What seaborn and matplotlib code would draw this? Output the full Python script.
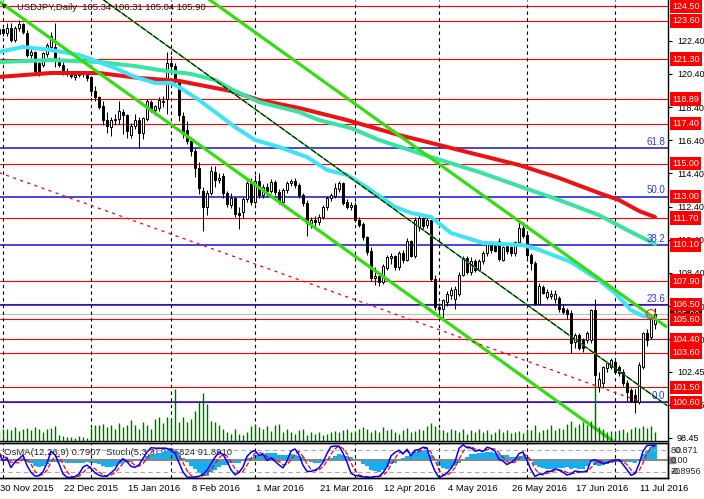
import numpy as np
import pandas as pd
import matplotlib
matplotlib.use("Agg")
import matplotlib.pyplot as plt
import matplotlib.transforms as mtransforms
from matplotlib.patches import Rectangle
import seaborn as sns

sns.set_style("white")
plt.rcParams['font.family'] = ['Liberation Sans', 'DejaVu Sans']

# Daily USDJPY candles, 30 Nov 2015 .. 15 Jul 2016
opens = [122.80, 123.10, 122.85, 123.20, 122.45, 123.15, 123.40, 122.90, 121.55, 121.70,
         121.05, 120.95, 121.60, 122.05, 122.00, 121.20, 120.95, 120.50, 120.50, 120.20,
         120.35, 120.45, 120.40, 120.20, 119.35, 119.00, 118.45, 117.65, 117.20, 117.65,
         117.70, 118.10, 117.90, 116.70, 117.25, 117.65, 116.85, 117.70, 118.70, 118.20,
         118.35, 118.80, 118.90, 121.05, 120.90, 119.95, 117.85, 117.05, 116.35, 115.75,
         114.75, 113.35, 112.40, 113.20, 114.50, 114.00, 114.25, 113.20, 112.50, 112.90,
         112.00, 112.05, 112.85, 113.80, 112.65, 113.95, 113.10, 113.60, 113.35, 113.90,
         113.30, 112.70, 113.40, 113.80, 113.95, 113.70, 113.10, 112.60, 111.40, 111.60,
         111.45, 111.80, 112.40, 112.95, 113.05, 113.45, 113.80, 112.65, 112.40, 112.50,
         111.60, 111.35, 110.55, 109.70, 108.10, 108.20, 107.85, 108.70, 109.30, 109.40,
         108.75, 109.60, 109.20, 110.30, 109.45, 111.20, 111.70, 111.30, 111.60, 108.05,
         106.35, 106.20, 106.65, 107.05, 106.85, 107.10, 108.30, 109.30, 108.45, 109.15,
         108.60, 109.10, 109.60, 110.20, 110.05, 110.35, 109.20, 110.05, 109.95, 109.60,
         110.25, 111.10, 110.70, 109.50, 109.00, 106.55, 107.55, 106.95, 107.00, 106.85,
         106.90, 106.30, 106.15, 106.00, 104.25, 104.65, 104.35, 104.35, 104.35, 106.15,
         101.55, 101.75, 102.65, 102.75, 103.00, 102.70, 102.40, 101.75, 101.35, 101.05,
         100.60, 102.75, 104.75, 104.55, 105.34]
highs = [123.25, 123.20, 123.45, 123.50, 123.30, 123.65, 123.50, 123.05, 122.05, 121.80,
         121.15, 121.75, 122.25, 122.95, 123.45, 121.40, 121.15, 120.75, 120.60, 120.45,
         120.60, 120.60, 120.55, 120.30, 119.70, 119.10, 118.75, 118.10, 117.80, 118.00,
         118.80, 118.30, 118.00, 117.45, 118.00, 117.80, 117.80, 118.90, 118.85, 118.50,
         119.00, 119.10, 121.70, 121.50, 121.05, 120.00, 118.10, 117.55, 116.60, 115.95,
         115.10, 113.60, 113.40, 114.85, 114.85, 114.40, 114.45, 113.35, 113.25, 113.00,
         112.40, 113.00, 113.95, 114.10, 114.30, 114.40, 113.75, 113.80, 114.05, 114.00,
         113.45, 113.55, 113.95, 114.05, 114.10, 113.85, 113.25, 112.80, 111.75, 111.85,
         111.95, 112.50, 113.05, 113.20, 113.85, 113.95, 113.90, 112.85, 112.70, 112.65,
         111.75, 111.50, 110.65, 109.95, 108.75, 108.45, 108.95, 109.50, 109.60, 109.50,
         109.75, 109.80, 110.50, 110.40, 111.80, 111.90, 111.80, 111.90, 111.85, 108.25,
         106.60, 106.85, 107.30, 107.55, 107.60, 108.45, 109.40, 109.40, 109.35, 109.25,
         109.25, 109.70, 110.35, 110.30, 110.15, 110.50, 110.05, 110.15, 110.05, 110.35,
         111.45, 111.50, 110.90, 109.60, 109.10, 107.80, 107.70, 107.45, 107.35, 107.40,
         107.00, 106.50, 106.30, 106.15, 104.80, 104.80, 104.50, 104.90, 106.20, 106.80,
         102.45, 102.80, 103.10, 103.30, 103.30, 102.85, 102.60, 101.95, 101.45, 101.40,
         103.00, 104.85, 105.00, 105.85, 106.31]
lows = [122.70, 122.70, 122.70, 122.30, 122.30, 123.00, 122.80, 121.45, 121.35, 120.40,
        120.25, 120.85, 121.45, 121.95, 120.85, 120.80, 120.35, 120.25, 120.15, 120.05,
        120.20, 120.20, 119.95, 119.05, 118.80, 118.30, 117.35, 116.85, 116.65, 117.30,
        117.40, 116.80, 116.55, 116.55, 117.10, 115.95, 116.50, 117.55, 118.10, 117.95,
        118.15, 118.40, 118.00, 120.60, 119.70, 117.55, 116.55, 116.15, 115.45, 114.20,
        113.15, 110.95, 111.90, 113.10, 113.60, 113.80, 112.90, 112.40, 112.30, 111.80,
        111.05, 111.70, 112.70, 112.50, 112.55, 112.95, 112.90, 113.05, 113.20, 113.10,
        112.55, 112.60, 113.20, 113.65, 113.55, 112.95, 112.45, 110.65, 111.10, 111.25,
        111.30, 111.65, 112.20, 112.75, 112.90, 113.30, 112.50, 112.25, 112.20, 111.45,
        111.15, 110.40, 109.50, 107.90, 107.70, 107.60, 107.75, 108.55, 108.95, 108.60,
        108.60, 109.00, 109.10, 109.35, 109.30, 110.95, 111.05, 111.10, 107.90, 106.15,
        105.85, 105.55, 106.40, 106.85, 106.20, 107.00, 108.20, 108.35, 108.30, 108.45,
        108.50, 108.95, 109.45, 109.60, 109.65, 109.10, 109.10, 109.55, 109.40, 109.45,
        110.15, 110.50, 109.30, 108.55, 106.45, 106.50, 107.10, 106.80, 106.85, 106.60,
        106.05, 105.95, 105.60, 103.55, 103.90, 103.75, 103.65, 104.20, 104.20, 99.00,
        101.20, 101.45, 102.40, 102.60, 102.35, 102.20, 101.60, 100.65, 100.60, 99.95,
        100.50, 102.60, 104.00, 104.40, 105.04]
closes = [123.10, 122.85, 123.20, 122.45, 123.15, 123.40, 122.95, 121.55, 121.70, 120.60,
          120.50, 121.65, 122.15, 122.70, 121.25, 120.95, 120.50, 120.40, 120.25, 120.35,
          120.45, 120.40, 120.15, 119.35, 119.00, 118.40, 117.60, 117.25, 117.65, 117.70,
          118.15, 117.90, 116.95, 117.25, 117.65, 116.85, 117.75, 118.75, 118.25, 118.45,
          118.85, 118.70, 121.05, 120.90, 119.95, 117.90, 116.80, 116.35, 115.75, 114.75,
          113.55, 112.40, 113.20, 114.55, 114.00, 114.10, 113.20, 112.55, 112.90, 111.95,
          111.90, 112.85, 113.80, 112.65, 113.95, 113.10, 113.60, 113.35, 113.90, 113.30,
          112.70, 113.40, 113.80, 113.95, 113.70, 113.10, 112.60, 111.40, 111.60, 111.45,
          111.80, 112.40, 112.95, 113.10, 113.50, 113.80, 112.60, 112.40, 112.50, 111.60,
          111.30, 110.55, 109.65, 108.10, 108.20, 107.85, 108.80, 109.35, 109.40, 108.75,
          109.60, 109.20, 110.35, 109.45, 111.60, 111.70, 111.25, 111.60, 108.05, 106.35,
          106.20, 106.75, 107.10, 107.40, 107.45, 108.30, 109.30, 108.45, 109.15, 108.60,
          109.10, 109.60, 110.20, 109.80, 109.75, 109.25, 109.95, 109.70, 109.60, 110.25,
          111.10, 110.65, 109.50, 109.00, 106.55, 107.60, 107.20, 107.25, 107.10, 107.10,
          106.20, 106.05, 105.90, 104.20, 104.65, 103.90, 103.90, 104.75, 106.15, 102.25,
          102.00, 102.70, 102.95, 103.15, 102.45, 102.35, 101.75, 101.20, 100.65, 100.60,
          102.85, 104.75, 104.35, 105.65, 105.90]
volumes = [9, 12, 12, 11, 14, 10,
           12, 13, 11, 14, 12, 9, 12, 13, 15,
           6, 5, 4, 4, 3, 5, 4, 3,
           13, 16, 16, 17, 14, 16, 12, 18, 14, 16, 21, 16, 12, 19, 16, 12, 22, 24, 18,
           24,
           22, 52, 19, 24, 19, 22, 30, 40, 48, 37, 20,
           19, 16, 12, 9, 7, 12, 7, 6, 9, 15,
           17, 14, 12, 15, 10, 16, 17, 9, 12, 9, 7, 11, 12, 6, 9, 7, 9, 6, 7, 9, 10, 9, 11, 12, 9,
           9, 12, 14, 12, 9, 11, 9, 14, 11, 12, 9, 7, 11, 13, 9, 10, 12, 11, 15, 18, 15,
           12, 11, 9, 12, 11, 9, 12, 7, 11, 9, 12, 9, 11, 7, 9, 12, 9, 11, 8, 9, 10, 8,
           12, 11, 16, 9, 11, 12, 16, 11, 13, 12, 17, 20, 14, 17, 19, 16, 20, 57, 14, 12, 9, 10,
           9, 11, 12, 9, 12, 14, 13, 15, 13, 15, 9]

date_labels = ["30 Nov 2015", "22 Dec 2015", "15 Jan 2016", "8 Feb 2016", "1 Mar 2016",
               "21 Mar 2016", "12 Apr 2016", "4 May 2016", "26 May 2016", "17 Jun 2016",
               "11 Jul 2016"]
date_label_bars = [0, 16, 32, 48, 64, 80, 96, 112, 128, 144, 160]
month_start_bars = [1, 23, 43, 64, 89, 110, 132, 154]

# support / resistance levels
sr_lines = [124.50, 123.60, 121.30, 118.89, 117.40, 115.00, 111.70, 107.90,
            106.50, 105.60, 104.40, 103.60, 101.50, 100.60]
sr_labels = [124.50, 123.60, 121.30, 118.89, 117.40, 115.00, 113.00, 111.70, 110.10,
             107.90, 106.50, 105.60, 104.40, 103.60, 101.50, 100.60]
grid_ticks = [122.40, 120.40, 118.40, 116.40, 114.40, 112.40, 110.40, 108.40,
              106.40, 104.40, 102.45, 100.45, 98.45]
fib_low, fib_high = 100.60, 125.40
fib_levels = [0.0, 23.6, 38.2, 50.0, 61.8, 100.0]
last_price = 105.90

# moving averages (sampled off the chart)
ma_fast_bars = [0, 6, 13, 20, 25, 29, 34, 39, 43, 45, 50, 54, 59, 64, 70, 77, 82, 87, 92, 95,
                99, 103, 108, 113, 121, 131, 135, 143, 150, 154, 158, 161, 164]
ma_fast_vals = [121.73, 122.03, 121.85, 121.55, 121.12, 120.76, 120.22, 119.86, 119.86, 119.61,
                118.83, 118.11, 117.20, 116.42, 116.00, 115.39, 114.61, 114.31, 113.55, 113.05,
                112.38, 112.02, 111.77, 110.81, 110.21, 110.08, 109.80, 109.06, 107.97, 107.19,
                106.16, 105.80, 105.68]
ma_mid_bars = [0, 13, 25, 34, 40, 48, 54, 58, 65, 75, 80, 88, 95, 108, 120, 130, 140, 150, 158, 164]
ma_mid_vals = [121.12, 121.24, 121.12, 120.88, 120.64, 120.40, 120.04, 119.49, 118.71, 118.11,
               117.62, 117.14, 116.42, 115.39, 114.49, 113.64, 112.80, 111.89, 110.87, 110.15]
ma_slow_bars = [0, 13, 25, 35, 45, 58, 65, 75, 87, 100, 108, 120, 130, 140, 150, 155, 160, 164]
ma_slow_vals = [120.22, 120.46, 120.46, 120.16, 119.98, 119.37, 118.83, 118.35, 117.62, 116.72,
                116.24, 115.51, 114.91, 114.13, 113.22, 112.80, 112.14, 111.77]

# drawn objects: (bar, price) anchors
channel_lower = ([0, 154], [124.78, 98.17])
channel_upper = ([52, 167], [124.99, 105.13])
thin_trend = ([26, 167], [124.89, 100.40])
red_dashed = ([0, 160], [114.45, 100.67])
circle_mark = (163, 105.92)

# ---- indicators from the candles ----
df = pd.DataFrame({"o": opens, "h": highs, "l": lows, "c": closes})
n = len(df)
bars = np.arange(n)
ema12 = df.c.ewm(span=12, adjust=False).mean()
ema26 = df.c.ewm(span=26, adjust=False).mean()
macd = ema12 - ema26
osma = macd - macd.rolling(9, min_periods=1).mean()
ll = df.l.rolling(5, min_periods=1).min()
hh = df.h.rolling(5, min_periods=1).max()
stoch_k = 100 * (df.c - ll).rolling(3, min_periods=1).sum() / (hh - ll).rolling(3, min_periods=1).sum()
stoch_d = stoch_k.rolling(3, min_periods=1).mean()

# ---- figure layout (pixel based) ----
W, H = 704, 499
fig = plt.figure(figsize=(W / 100, H / 100), dpi=100)
fig.patch.set_facecolor("white")


def frame(x0, y0, x1, y1):
    return [x0 / W, 1 - y1 / H, (x1 - x0) / W, (y1 - y0) / H]


ax = fig.add_axes(frame(0, 0, 668, 441))
ax_ind = fig.add_axes(frame(0, 443, 668, 478))
xlim = (0.25, 167.25)
ylim = (98.264, 124.862)
ax.set_xlim(*xlim)
ax.set_ylim(*ylim)

# levels
for p in sr_lines:
    ax.axhline(p, color="#FF0000", lw=0.8, zorder=1)
trf = mtransforms.blended_transform_factory(ax.transAxes, ax.transData)
for lev in fib_levels:
    p = fib_low + (fib_high - fib_low) * lev / 100
    ax.axhline(p, color="#1414C8", lw=1.1, zorder=1.5)
    if p < ylim[1] - 0.5:
        ax.text(0.9955, p + 0.08, f"{lev:.1f}", transform=trf, ha="right", va="bottom",
                color="#2a3ae0", fontsize=7, zorder=6)
ax.axhline(last_price, color="#C0C0C0", lw=0.9, zorder=1.2)

for b in month_start_bars:
    ax.axvline(b, color="black", lw=0.8, ls=(0, (3, 3)), zorder=2)
    ax_ind.axvline(b, color="black", lw=0.8, ls=(0, (3, 3)), zorder=4)

# candles
O = df.o.values; C = df.c.values
up = C >= O
body_lo = np.minimum(O, C)
body_h = np.maximum(np.abs(C - O), 0.03)
ax.vlines(bars, df.l, df.h, color="black", lw=0.75, zorder=3)
ax.bar(bars[up], body_h[up], bottom=body_lo[up], width=0.72, color="white",
       edgecolor="black", linewidth=0.7, zorder=3.2)
ax.bar(bars[~up], body_h[~up], bottom=body_lo[~up], width=0.72, color="black",
       edgecolor="black", linewidth=0.7, zorder=3.2)

# moving averages
sns.lineplot(x=ma_slow_bars, y=ma_slow_vals, ax=ax, color="#EE1111", lw=2.9, zorder=4)
sns.lineplot(x=ma_mid_bars, y=ma_mid_vals, ax=ax, color="#3AE3A2", lw=2.9, zorder=4)
sns.lineplot(x=ma_fast_bars, y=ma_fast_vals, ax=ax, color="#3FE3F5", lw=2.9, zorder=4)

# trend lines
ax.plot(*channel_lower, color="#33DD11", lw=2.3, zorder=5, solid_capstyle="butt")
ax.plot(*channel_upper, color="#33DD11", lw=2.3, zorder=5, solid_capstyle="butt")
ax.plot(*thin_trend, color="#22BB22", lw=1.1, zorder=5)
ax.plot(*thin_trend, color="black", lw=0.7, ls=(0, (6, 2)), zorder=5.1)
ax.plot(*red_dashed, color="#FF0000", lw=0.9, ls=(0, (2.5, 3.5)), zorder=5)
ax.scatter([circle_mark[0]], [circle_mark[1]], s=42, facecolors="none", edgecolors="#FF2020",
           linewidths=0.8, zorder=6)

# volume histogram
ax_v = ax.twinx()
ax_v.vlines(bars, 0, volumes, color="#006A00", lw=1.0)
ax_v.set_ylim(0, max(volumes) * 442 / 57)
ax_v.set_xlim(*xlim)
ax_v.axis("off")

# right price axis
ax.set_xticks([])
ax.yaxis.tick_right()
ax.set_yticks(grid_ticks)
ax.set_yticklabels([f"{t:.2f}" for t in grid_ticks], fontsize=6.5)
ax.tick_params(axis="y", right=True, left=False, direction="out", length=3, width=0.8,
               pad=3.5, colors="black")
for side in ["left", "top"]:
    ax.spines[side].set_visible(False)
for side in ["right", "bottom"]:
    ax.spines[side].set_color("black")
    ax.spines[side].set_linewidth(1)

ax.text(1.0064, last_price, f"{last_price:.2f}", transform=trf, color="white", fontsize=6.5,
        va="center", ha="left", clip_on=False, zorder=9,
        bbox=dict(boxstyle="square,pad=0.25", fc="black", ec="none"))
for p in sr_labels:
    ax.text(1.0064, p, f"{p:.2f}", transform=trf, color="white", fontsize=6.5, va="center",
            ha="left", clip_on=False, zorder=10,
            bbox=dict(boxstyle="square,pad=0.25", fc="#FF0000", ec="none"))

# ---- indicator window ----
osma_top, osma_bottom = 0.871, -0.8956
ax_ind.set_xlim(*xlim)
ax_ind.set_ylim(osma_bottom, osma_top)
ax_ind.bar(bars, osma, width=0.78, color="#12B0F2", linewidth=0, antialiased=False, zorder=2)
ax_ind.axhline(0, color="#888888", lw=1.5, zorder=3)
ax_st = ax_ind.twinx()
ax_st.set_ylim(3, 100)
ax_st.set_xlim(*xlim)
ax_st.axhline(80, color="#AAAAAA", lw=0.8, ls=(0, (4, 3)))
ax_st.axhline(20, color="#AAAAAA", lw=0.8, ls=(0, (4, 3)))
sns.lineplot(x=bars, y=stoch_d.values, ax=ax_st, color="#FF0000", lw=0.9, linestyle="--")
sns.lineplot(x=bars, y=stoch_k.values, ax=ax_st, color="#0000FF", lw=1.1)

for a in (ax_ind, ax_st):
    a.set_xticks([]); a.set_yticks([])
    a.set_ylabel("")
    a.spines["left"].set_visible(False)
    for side in ["right", "bottom", "top"]:
        a.spines[side].set_color("black")
        a.spines[side].set_linewidth(1)

ax_ind.text(0.006, 0.74, "OsMA(12,26,9) 0.7907  Stoch(5,3,3) 91.5824 91.8910",
            transform=ax_ind.transAxes, fontsize=6.8, va="center", ha="left", color="#222222", zorder=1)

trs = mtransforms.blended_transform_factory(ax_st.transAxes, ax_st.transData)
ax_st.text(1.0045, 80, "80", transform=trs, fontsize=6.5, va="center", ha="left", clip_on=False)
ax_st.text(1.0115, 80, "0.871", transform=trs, fontsize=6.5, va="center", ha="left", clip_on=False)
ax_st.text(1.0045, 20, "-0.8956", transform=trs, fontsize=6.5, va="center", ha="left", clip_on=False)
ax_st.text(1.0045, 20, "20", transform=trs, fontsize=6.5, va="center", ha="left", clip_on=False)
tro = mtransforms.blended_transform_factory(ax_ind.transAxes, ax_ind.transData)
ax_ind.add_patch(Rectangle((1.0015, -0.14), 0.0085, 0.28, transform=tro, color="#8C8C8C",
                           clip_on=False, zorder=5))
ax_ind.text(1.0045, 0, "0.00", transform=tro, fontsize=6.5, va="center", ha="left",
            clip_on=False, zorder=6)

# date labels
trd = mtransforms.blended_transform_factory(ax_ind.transData, ax_ind.transAxes)
for b, lab in zip(date_label_bars, date_labels):
    ax_ind.text(b + 0.2, -0.29, lab, transform=trd, fontsize=6.8, va="center", ha="left",
                clip_on=False, color="black")

# title
fig.text(2 / W, 1 - 7 / H, "\u25BC", fontsize=4.5, family="DejaVu Sans", va="center", ha="left")
fig.text(17 / W, 1 - 7 / H, "USDJPY,Daily  105.34 106.31 105.04 105.90", fontsize=6.8,
         va="center", ha="left", color="#1a1a1a")

fig.savefig("out.png", dpi=100)
